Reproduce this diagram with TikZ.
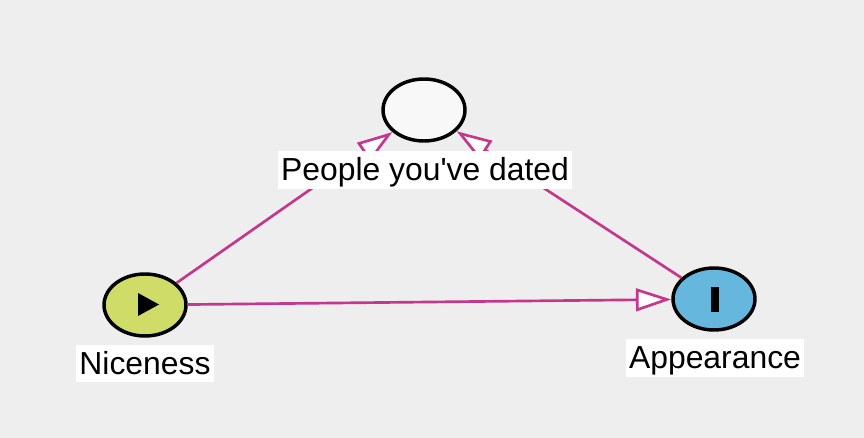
\documentclass[tikz,border=0pt]{standalone}
\usepackage{fontspec}
\setmainfont{Liberation Sans}[Ligatures=TeXOff]
\usetikzlibrary{shapes.geometric,arrows.meta}
\definecolor{bg}{HTML}{EEEEEE}
\definecolor{edgec}{RGB}{196,55,140}
\definecolor{nicec}{HTML}{D0DC68}
\definecolor{appc}{HTML}{66B7DE}
\definecolor{topc}{HTML}{F8F8F8}
\tikzset{
  var/.style={ellipse, draw=black, line width=2.6pt, minimum width=61.5pt, minimum height=46.5pt, inner sep=0pt},
  lbl/.style={rectangle, fill=white, inner xsep=2.6pt, inner ysep=0.6pt, text height=21.3pt, text depth=5.3pt, font=\fontsize{23.9}{26}\selectfont},
  link/.style={draw=edgec, line width=2pt, -{Triangle[length=26.5pt, width=17pt, fill=white, line width=2pt]}}
}
\begin{document}
\begin{tikzpicture}[x=0.75pt, y=-0.75pt]
\fill[bg] (0,0) rectangle (864,438);
\useasboundingbox (0,0) rectangle (864,438);
\node[var, fill=topc] (dated) at (424,110) {};
\node[var, fill=nicec] (nice) at (145,305) {};
\node[var, fill=appc] (app) at (714,299) {};
\fill[black] (138,293) -- (159,304.5) -- (138,316) -- cycle;
\fill[black] (711,287) rectangle (719,312);
\draw[link] (nice) -- (dated);
\draw[link] (app) -- (dated);
\draw[link] (nice) -- (app);
\node[lbl] (datedl) at (425,170) {People you've dated};
\node[lbl] (nicel) at (145,363.5) {Niceness};
\node[lbl] (appl) at (715,358) {Appearance};
\end{tikzpicture}
\end{document}
